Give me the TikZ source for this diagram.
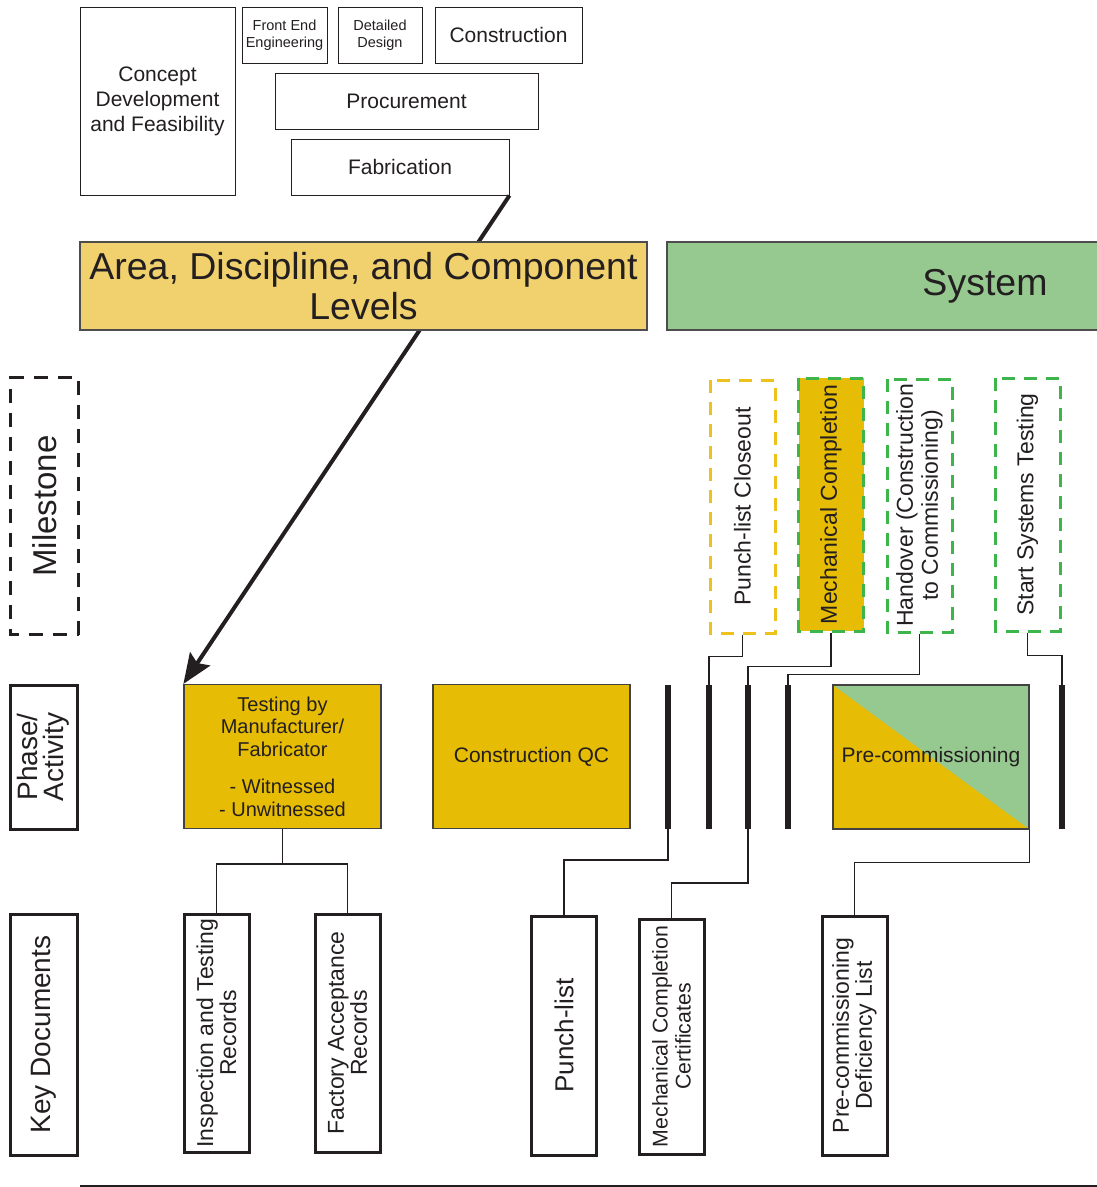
\documentclass[tikz,border=0pt]{standalone}
\usepackage{fontspec}
\setmainfont{Liberation Sans}
\usetikzlibrary{arrows.meta,positioning}
\definecolor{Ink}{HTML}{231F20}
\definecolor{Sand}{HTML}{F0D16E}
\definecolor{Leaf}{HTML}{96C98F}
\definecolor{Gold}{HTML}{E6BC04}
\definecolor{Amber}{HTML}{EDC21C}
\definecolor{Grass}{HTML}{3DB54A}
\tikzset{
  stage/.style={draw=Ink,line width=1pt,fill=white,align=center,text=Ink,inner sep=0pt,font=\fontsize{21}{25}\selectfont},
  smallstage/.style={stage,font=\fontsize{14.5}{17}\selectfont},
  level/.style={draw=Ink!80,line width=1.6pt,align=center,text=Ink,inner sep=0pt,minimum height=88pt,font=\fontsize{37.5}{40}\selectfont},
  rowlabel/.style={draw=Ink,line width=3pt,rotate=90,align=center,text=Ink,inner sep=0pt,minimum height=67pt,font=\fontsize{28}{26}\selectfont},
  milestone/.style={line width=3pt,dash pattern=on 13pt off 9pt,rotate=90,align=center,text=Ink,inner sep=0pt,minimum width=253pt,minimum height=65pt,font=\fontsize{23}{25}\selectfont},
  phase/.style={draw=Ink!85,line width=1.2pt,fill=Gold,align=center,text=Ink,inner sep=0pt,minimum width=197pt,minimum height=144pt,font=\fontsize{21}{22.5}\selectfont},
  bar/.style={fill=Ink,inner sep=0pt,minimum width=6pt,minimum height=144pt},
  doc/.style={draw=Ink,line width=3pt,rotate=90,align=center,text=Ink,inner sep=0pt,minimum height=65pt,font=\fontsize{23}{23}\selectfont},
  link/.style={draw=Ink,line width=1.5pt},
  arr/.style={-{Stealth[length=30pt,width=24pt,inset=5pt]},draw=Ink,line width=4pt}
}

\begin{document}
\begin{tikzpicture}[x=1pt,y=-1pt]
  \useasboundingbox (0,0) rectangle (1097,1187);
  % project stages
  \node[stage,minimum width=155pt,minimum height=188pt] (cdf) at (157.5,101) {Concept\\Development\\and Feasibility};
  \node[smallstage,minimum width=85pt,minimum height=56pt] (fee) at (284.5,35) {Front End\\Engineering};
  \node[smallstage,minimum width=84pt,minimum height=56pt] (dd) at (380,35) {Detailed\\Design};
  \node[stage,minimum width=147pt,minimum height=56pt] (con) at (508.5,35) {Construction};
  \node[stage,minimum width=263pt,minimum height=56pt] (proc) at (406.5,101) {Procurement};
  \node[stage,minimum width=218pt,minimum height=56pt] (fab) at (400,167) {Fabrication};

  % phase / activity
  \node[phase,font=\fontsize{20}{22.5}\selectfont] (test) at (282.5,756.5) {Testing by\\Manufacturer/\\Fabricator\\[15pt]- Witnessed\\- Unwitnessed};
  \node[phase] (cqc) at (531.5,756.5) {Construction QC};
  \node[bar] (bar1) at (668,757) {};
  \node[bar] (bar2) at (709,757) {};
  \node[bar] (bar3) at (748,757) {};
  \node[bar] (bar4) at (788,757) {};
  \node[phase,minimum width=196pt,path picture={
    \fill[Leaf] (path picture bounding box.north west) -- (path picture bounding box.north east)
      -- (path picture bounding box.south east) -- cycle;}] (pre) at (931,757) {Pre-commissioning};
  \node[bar] (bar5) at (1062,757) {};

  \draw[arr] (fab.south east) -- (test.north west);

  % levels
  \node[level,fill=Sand,minimum width=567pt] (adc) at (363.5,286) {Area, Discipline, and Component\\Levels};
  \node[level,fill=Leaf,minimum width=636pt] (sys) at (985,286) {System};

  % row labels
  \node[rowlabel,draw=none,minimum width=254pt,minimum height=65pt,font=\fontsize{33}{33}\selectfont] (ms) at (44.5,506) {Milestone};
  \draw[Ink,line width=3pt,dash pattern=on 14pt off 10pt] (ms.south west) rectangle (ms.north east);
  \node[rowlabel,minimum width=144pt] (pa) at (43.5,757) {Phase/\\Activity};
  \node[rowlabel,minimum width=241pt] (kd) at (43.5,1034.5) {Key Documents};

  % milestones
  \node[milestone,draw=Amber] (pcl) at (742.5,506.5) {Punch-list Closeout};
  \node[milestone,draw=Grass,fill=Gold] (mc) at (831,504.5) {Mechanical Completion};
  \node[milestone,draw=Grass] (ho) at (919.5,505.5) {Handover (Construction\\to Commissioning)};
  \node[milestone,draw=Grass] (sst) at (1027.5,504.5) {Start Systems Testing};

  % key documents
  \node[doc,minimum width=238pt] (itr) at (216.5,1033) {Inspection and Testing\\Records};
  \node[doc,minimum width=238pt] (far) at (347.5,1033) {Factory Acceptance\\Records};
  \node[doc,minimum width=239pt,font=\fontsize{26}{25}\selectfont] (pl) at (564,1035.5) {Punch-list};
  \node[doc,minimum width=235pt,font=\fontsize{21.3}{23}\selectfont] (mcc) at (671.5,1036.5) {Mechanical Completion\\Certificates};
  \node[doc,minimum width=239pt] (pdl) at (854.5,1035.5) {Pre-commissioning\\Deficiency List};

  % links
  \draw[link] (pcl.west) -- ++(0,22) -| (bar2.north);
  \draw[link] (mc.west) -- ++(0,34) -| (bar3.north);
  \draw[link] (ho.west) -- ++(0,41) -| (bar4.north);
  \draw[link] (sst.west) -- ++(0,23) -| (bar5.north);
  \draw[link] (test.south) -- ++(0,35) coordinate (split);
  \draw[link] (split) -| (itr.east);
  \draw[link] (split) -| (far.east);
  \draw[link] (bar1.south) -- ++(0,31) -| (pl.east);
  \draw[link] (bar3.south) -- ++(0,54) -| (mcc.east);
  \draw[link] (pre.south east) -- ++(0,33) -| (pdl.east);

  \draw[Ink,line width=1.5pt] (80,1186) -- (1097,1186);
\end{tikzpicture}
\end{document}
